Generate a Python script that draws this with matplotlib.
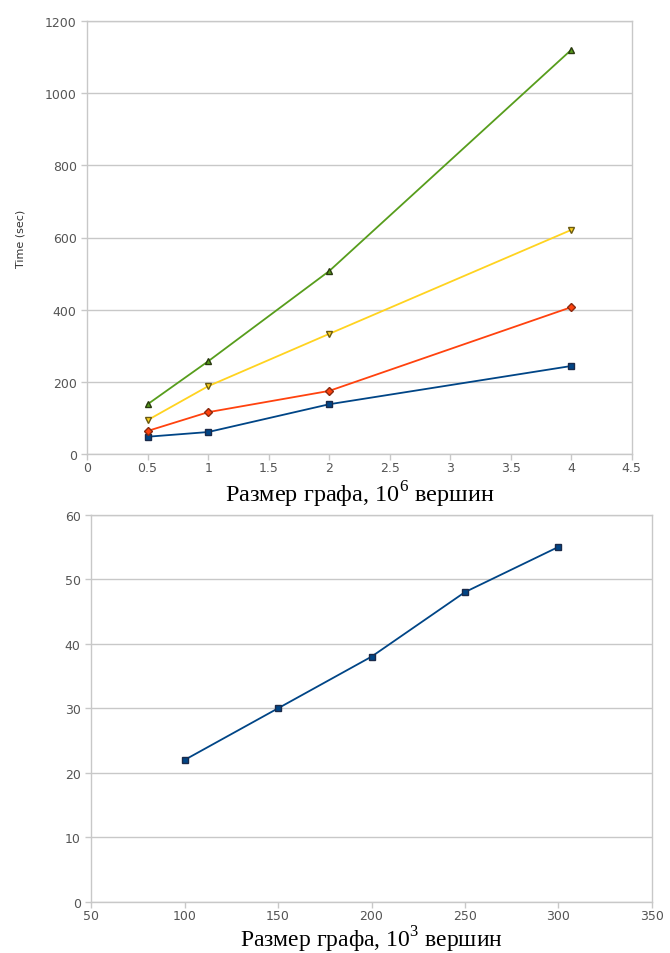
import matplotlib
matplotlib.use('Agg')
from matplotlib import pyplot as plt

# top chart: time vs graph size (10^6 vertices)
sizes_m = [0.5, 1, 2, 4]
time_blue = [48, 61, 138, 244]
time_red = [64, 116, 175, 407]
time_yellow = [94, 188, 333, 621]
time_green = [138, 257, 507, 1120]

# bottom chart: graph size (10^3 vertices)
sizes_k = [100, 150, 200, 250, 300]
time_small = [22, 30, 38, 48, 55]

plt.rcParams['mathtext.fontset'] = 'custom'
plt.rcParams['mathtext.rm'] = 'Liberation Serif'

BLUE = '#004586'
RED = '#ff420e'
YELLOW = '#ffd320'
GREEN = '#579d1c'
GRID = '#c8c8c8'
TICKC = '#555555'


def style(ax):
    ax.set_facecolor('white')
    for s in ax.spines.values():
        s.set_color(GRID)
        s.set_linewidth(1.0)
    ax.grid(axis='y', color=GRID, linewidth=1.0)
    ax.set_axisbelow(True)
    ax.tick_params(colors=GRID, labelcolor=TICKC, labelsize=9, length=4, width=1)
    ax.tick_params(axis='x', pad=1)


fig = plt.figure(figsize=(6.7, 9.54), dpi=100)

ax1 = fig.add_axes([0.130, 0.523, 0.813, 0.454])
style(ax1)
ax1.plot(sizes_m, time_blue, color=BLUE, marker='s', ms=5, lw=1.3, mec='#1a2a4a')
ax1.plot(sizes_m, time_red, color=RED, marker='D', ms=4, lw=1.3, mec='#8a2a10')
ax1.plot(sizes_m, time_yellow, color=YELLOW, marker='v', ms=5, lw=1.3, mec='#6a5a10')
ax1.plot(sizes_m, time_green, color=GREEN, marker='^', ms=5, lw=1.3, mec='#2a3a10')
ax1.set_xlim(0, 4.5)
ax1.set_ylim(0, 1200)
ax1.set_xticks([0, 0.5, 1, 1.5, 2, 2.5, 3, 3.5, 4, 4.5])
ax1.set_xticklabels(['0', '0.5', '1', '1.5', '2', '2.5', '3', '3.5', '4', '4.5'])
ax1.set_yticks(range(0, 1201, 200))
ax1.set_ylabel('Time (sec)', fontsize=8, color='#333333', labelpad=14)
ax1.set_xlabel(r'Размер графа, 10$^{\mathrm{6}}$ вершин', family='Liberation Serif',
               fontsize=17.5, color='black')
ax1.xaxis.set_label_coords(0.5, -0.057)

ax2 = fig.add_axes([0.136, 0.0535, 0.837, 0.406])
style(ax2)
ax2.plot(sizes_k, time_small, color=BLUE, marker='s', ms=5, lw=1.3, mec='#1a2a4a')
ax2.set_xlim(50, 350)
ax2.set_ylim(0, 60)
ax2.set_xticks(range(50, 351, 50))
ax2.set_yticks(range(0, 61, 10))
ax2.set_xlabel(r'Размер графа, 10$^{\mathrm{3}}$ вершин', family='Liberation Serif',
               fontsize=17, color='black')
ax2.xaxis.set_label_coords(0.5, -0.057)

plt.savefig('out.png', dpi=100)
plt.close('all')
